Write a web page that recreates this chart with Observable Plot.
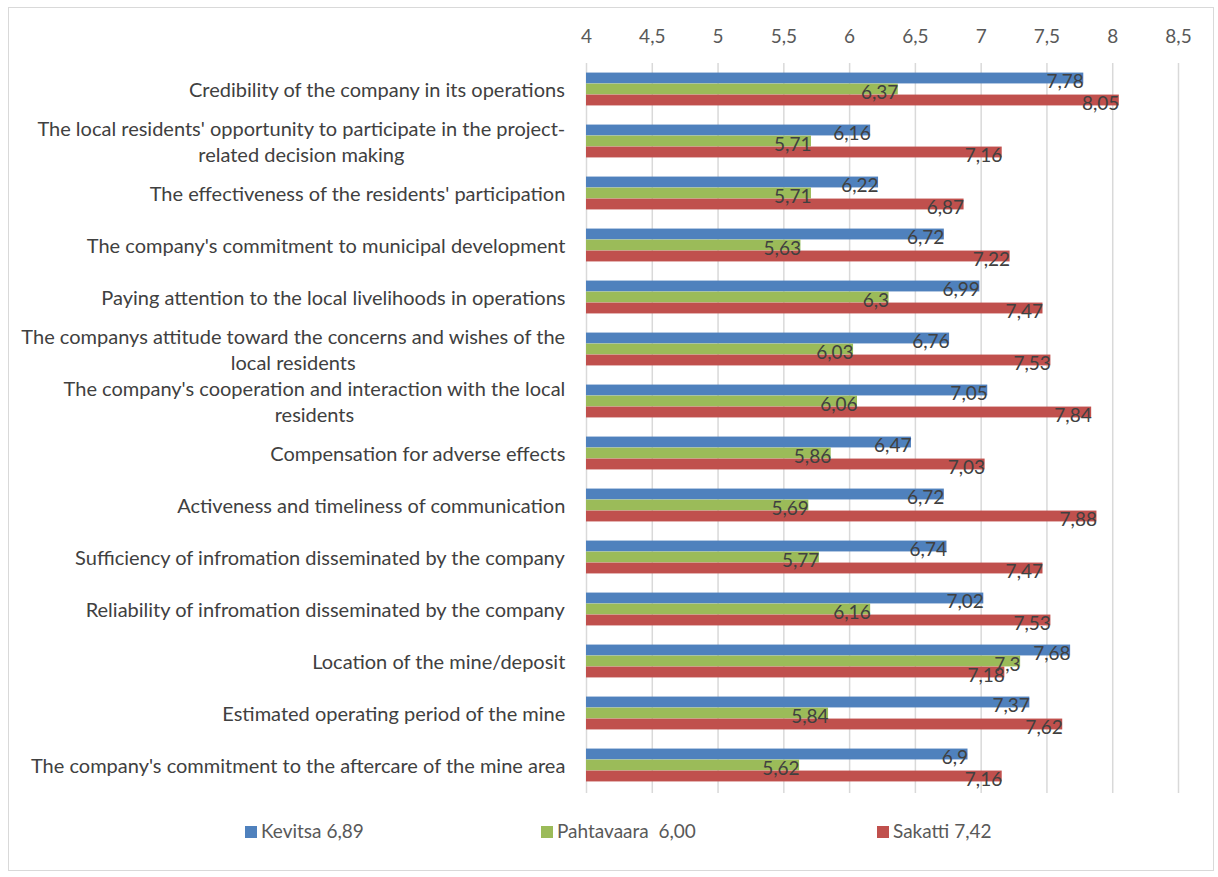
<!DOCTYPE html>
<html>
<head>
<meta charset="utf-8">
<script src="https://cdn.jsdelivr.net/npm/d3@7"></script>
<script src="https://cdn.jsdelivr.net/npm/@observablehq/plot@0.6"></script>
<style>
  html, body { margin: 0; padding: 0; background: #fff; }
  #wrap { position: relative; width: 1218px; height: 877px; font-family: Lato, "Open Sans", sans-serif; }
  #frame { position: absolute; left: 8px; top: 7px; width: 1206px; height: 864px; border: 1px solid #d9d9d9; box-sizing: border-box; }
  #chart { position: absolute; left: 0; top: 0; }
  .leg { position: absolute; top: 820px; font-size: 19px; color: #595959; white-space: pre; line-height: 22px; }
  .sw { display: inline-block; width: 12px; height: 12px; margin-right: 4px; vertical-align: 0px; }
</style>
</head>
<body>
<div id="wrap">
  <div id="frame"></div>
  <div id="chart"></div>
  <div id="legend"></div>
</div>
<script>
const categories = [
  "Credibility of the company in its operations",
  "The local residents' opportunity to participate in the project-\nrelated decision making",
  "The effectiveness of the residents' participation",
  "The company's commitment to municipal development",
  "Paying attention to the local livelihoods in operations",
  "The companys attitude toward the concerns and wishes of the\nlocal residents",
  "The company's cooperation and interaction with the local\nresidents",
  "Compensation for adverse effects",
  "Activeness and timeliness of communication",
  "Sufficiency of infromation disseminated by the company",
  "Reliability of infromation disseminated by the company",
  "Location of the mine/deposit",
  "Estimated operating period of the mine",
  "The company's commitment to the aftercare of the mine area"
];
const kevitsa    = [7.78, 6.16, 6.22, 6.72, 6.99, 6.76, 7.05, 6.47, 6.72, 6.74, 7.02, 7.68, 7.37, 6.9];
const pahtavaara = [6.37, 5.71, 5.71, 5.63, 6.3, 6.03, 6.06, 5.86, 5.69, 5.77, 6.16, 7.3, 5.84, 5.62];
const sakatti    = [8.05, 7.16, 6.87, 7.22, 7.47, 7.53, 7.84, 7.03, 7.88, 7.47, 7.53, 7.18, 7.62, 7.16];
const seriesNames = ["Kevitsa 6,89", "Pahtavaara  6,00", "Sakatti 7,42"];
const seriesColors = ["#4F81BD", "#9BBB59", "#C0504D"];
const xTicks = [4, 4.5, 5, 5.5, 6, 6.5, 7, 7.5, 8, 8.5];

const seriesValues = [kevitsa, pahtavaara, sakatti];
const rows = categories.flatMap((c, i) => seriesValues.map((vals, j) => ({category: c, series: j, value: vals[i]})));
const fmt = v => String(v).replace(".", ",");

const FONT = "Lato, 'Open Sans', sans-serif";
const catSize = 20;
const ctx = document.createElement("canvas").getContext("2d");
ctx.font = `${catSize}px Lato`;
const blockWidth = c => d3.max(c.split("\n"), l => ctx.measureText(l).width);

const barH = 11;
const step = (793 - 63) / categories.length;
const inset = (step - barH) / 2;
const offsets = [-barH, 0, barH];
const labelGap = 21;

const marks = [
  Plot.gridX(xTicks, {stroke: "#d9d9d9", strokeOpacity: 1, strokeWidth: 1.5}),
];
seriesValues.forEach((vals, j) => {
  const data = rows.filter(d => d.series === j);
  marks.push(Plot.barX(data, {
    x1: () => 4, x2: "value", y: "category", fill: seriesColors[j],
    insetTop: inset, insetBottom: inset, dy: offsets[j] - 1
  }));
});
seriesValues.forEach((vals, j) => {
  const data = rows.filter(d => d.series === j);
  marks.push(Plot.text(data, {
    x: "value", y: "category", text: d => fmt(d.value), textAnchor: "end",
    dy: offsets[j] + 2, fontSize: 19, fill: "#404040"
  }));
});
// category labels: wrapped block right-aligned, lines centred within block
categories.forEach(c => {
  const w = blockWidth(c);
  marks.push(Plot.text([c], {
    x: () => 4, y: d => d, text: d => d, textAnchor: "middle",
    dx: -labelGap - w / 2, dy: -2,
    lineHeight: 1.3, fontSize: catSize, fill: "#404040"
  }));
});
marks.push(Plot.axisX(xTicks, {
  anchor: "top", tickSize: 0, tickPadding: 21, fontSize: 19, fill: "#595959",
  tickFormat: fmt, label: null
}));

const chart = Plot.plot({
  width: 1218,
  height: 800,
  marginTop: 63,
  marginBottom: 7,
  marginLeft: 586,
  marginRight: 40,
  style: {fontFamily: FONT, background: "transparent", overflow: "visible"},
  x: {domain: [4, 8.5], axis: null},
  y: {type: "band", domain: categories, padding: 0, axis: null},
  marks
});
document.getElementById("chart").appendChild(chart);

const legendPos = [245, 541, 877];
const legend = document.getElementById("legend");
seriesNames.forEach((name, j) => {
  const el = document.createElement("div");
  el.className = "leg";
  el.style.left = legendPos[j] + "px";
  const sw = document.createElement("span");
  sw.className = "sw";
  sw.style.background = seriesColors[j];
  el.appendChild(sw);
  el.appendChild(document.createTextNode(name));
  legend.appendChild(el);
});
</script>
</body>
</html>
